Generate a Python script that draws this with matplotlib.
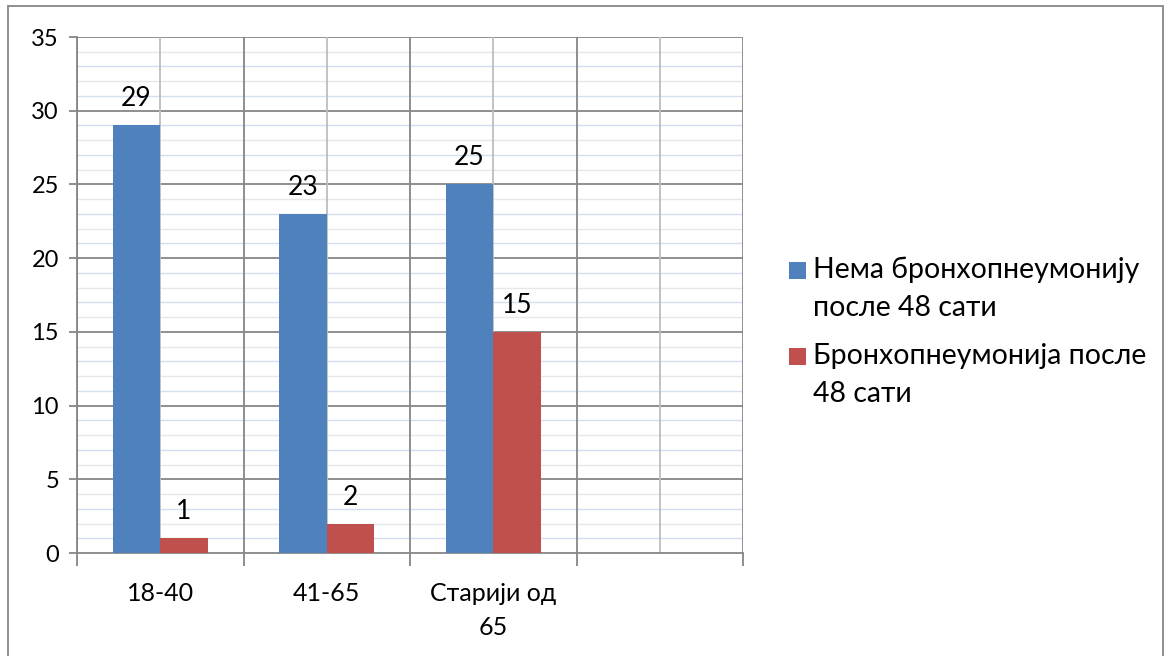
import matplotlib
matplotlib.use("Agg")
import matplotlib.pyplot as plt
from matplotlib.patches import Rectangle
import numpy as np

categories = ["18-40", "41-65", "Старији од\n65", ""]
series_names = ["Нема бронхопнеумонију\nпосле 48 сати", "Бронхопнеумонија после\n48 сати"]
no_pneumonia = [29, 23, 25, None]
pneumonia = [1, 2, 15, None]
colors = ["#4F81BD", "#C0504D"]

plt.rcParams['font.family'] = ['Lato', 'DejaVu Sans']

W, H = 1171, 656
fig = plt.figure(figsize=(W/100, H/100), dpi=100)
ax = fig.add_axes([77/W, 1-553/H, (743-77)/W, (553-37)/H])

n = len(categories)
x = np.arange(n)
bw = 0.285
for vals, off, c in [(no_pneumonia, -bw/2, colors[0]), (pneumonia, bw/2, colors[1])]:
    for i, v in enumerate(vals):
        if v is None:
            continue
        ax.bar(x[i] + off, v, width=bw, color=c, zorder=3)
        ax.text(x[i] + off, v + 0.95, str(v), ha='center', va='bottom', fontsize=19, zorder=4)

ax.set_xlim(-0.5, n - 0.5)
ax.set_ylim(0, 35)

# minor horizontal gridlines
for yv in range(0, 36):
    if yv % 5 == 0:
        continue
    col = "#d3def0" if yv % 2 == 1 else "#e4e7ec"
    ax.axhline(yv, color=col, lw=1.0, zorder=1)
# major horizontal gridlines
for yv in range(5, 36, 5):
    ax.axhline(yv, color="#868686", lw=1.3, zorder=2)
# vertical gridlines
for i in range(n):
    ax.axvline(i, color="#bdbdbd", lw=1.3, zorder=2)
for i in range(n + 1):
    ax.axvline(i - 0.5, color="#868686", lw=1.3, zorder=2)

for s in ax.spines.values():
    s.set_color("#868686")
    s.set_linewidth(1.3)
ax.spines['top'].set_visible(False)
ax.spines['right'].set_visible(False)

ax.set_yticks(range(0, 36, 5))
ax.set_yticklabels([str(v) for v in range(0, 36, 5)], fontsize=17)
ax.tick_params(axis='y', length=6, width=1.3, color="#868686", pad=7)
ax.set_xticks(np.arange(n + 1) - 0.5)
ax.set_xticklabels([])
ax.tick_params(axis='x', length=9, width=1.3, color="#868686")
for i, lab in enumerate(categories):
    ax.text(x[i], -1.95, lab, ha='center', va='top', fontsize=18, linespacing=1.6,
            transform=ax.transData)

# legend (manual)
leg_y = [271, 357]
for name, c, yy in zip(series_names, colors, leg_y):
    fig.patches.append(Rectangle((789/W, 1-(yy+8)/H), 17/W, 17/H, transform=fig.transFigure,
                                 facecolor=c, edgecolor='none'))
    fig.text(813/W, 1-(yy-14)/H, name, ha='left', va='top', fontsize=20.5, linespacing=1.55)

# outer frame
fig.patches.append(Rectangle((8/W, -0.05), (1163-8)/W, 1-6/H+0.05, transform=fig.transFigure,
                             facecolor='none', edgecolor="#868686", lw=1.3))

fig.savefig("out.png", dpi=100)
